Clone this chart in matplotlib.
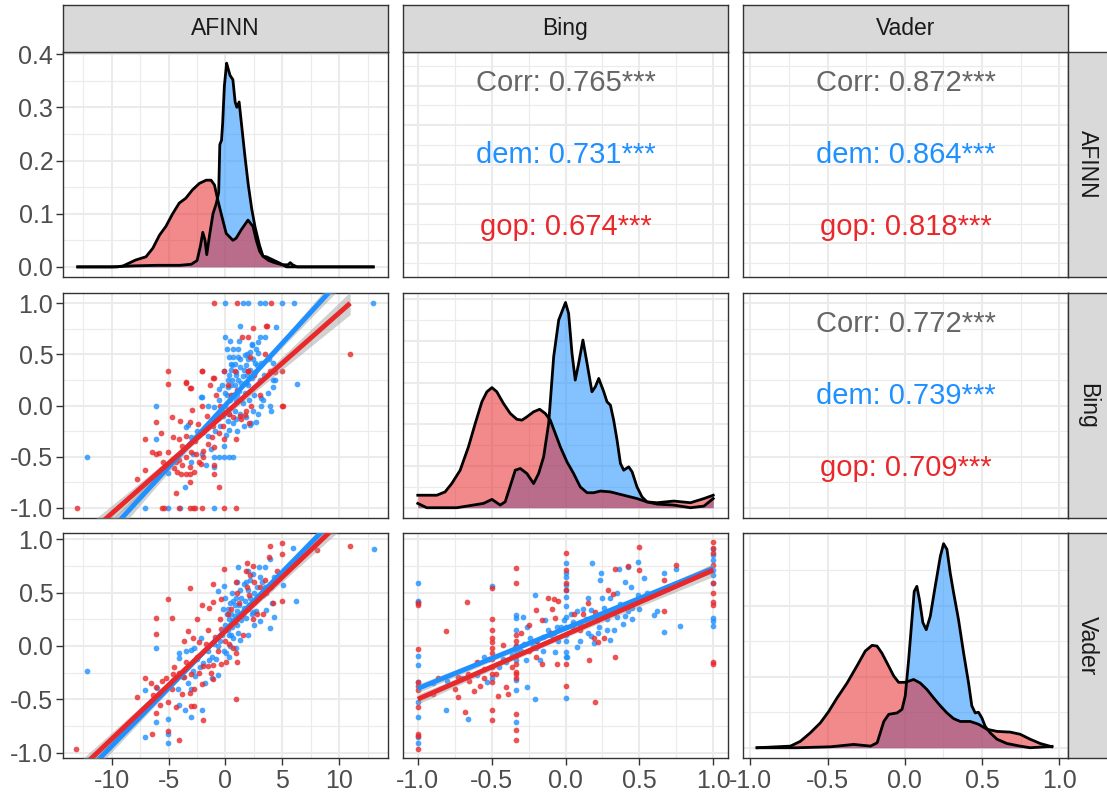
import numpy as np
import matplotlib
matplotlib.use("Agg")
from matplotlib import pyplot as plt

plt.rcParams['font.family'] = ['Liberation Sans', 'DejaVu Sans']

# %% colours and layout
DEM = '#1E90FF'
GOP = '#E8282B'
GRID = '#EBEBEB'
FRAME = '#333333'
W, H = 1107, 800
COL_LEFT = [63, 403, 743]
ROW_TOP = [52, 293, 533]
PW, PH = 325, 225

VARS = ['AFINN', 'Bing', 'Vader']

# %% axis scales
scales = {
    'AFINN': dict(lim=(-14.3, 14.3), major=[-10, -5, 0, 5, 10],
                  minor=[-12.5, -7.5, -2.5, 2.5, 7.5, 12.5],
                  labels=['-10', '-5', '0', '5', '10']),
    'Bing': dict(lim=(-1.1, 1.1), major=[-1, -0.5, 0, 0.5, 1],
                 minor=[-0.75, -0.25, 0.25, 0.75],
                 labels=['-1.0', '-0.5', '0.0', '0.5', '1.0']),
    'Vader': dict(lim=(-1.048, 1.057), major=[-1, -0.5, 0, 0.5, 1],
                  minor=[-0.75, -0.25, 0.25, 0.75],
                  labels=['-1.0', '-0.5', '0.0', '0.5', '1.0']),
}
dens_scales = {
    'AFINN': dict(lim=(-0.019, 0.404), major=[0, 0.1, 0.2, 0.3, 0.4],
                  minor=[0.05, 0.15, 0.25, 0.35],
                  labels=['0.0', '0.1', '0.2', '0.3', '0.4']),
    'Bing': dict(lim=(-0.123, 2.574), major=[0, 0.5, 1, 1.5, 2, 2.5],
                 minor=[0.25, 0.75, 1.25, 1.75, 2.25], labels=None),
    'Vader': dict(lim=(-0.144, 3.02), major=[0, 1, 2, 3],
                  minor=[0.5, 1.5, 2.5], labels=None),
}

# %% density curves (x, density) per party
afinn_dens_x_dem = [-13.0, -10.0, -8.0, -6.0, -4.0, -3.0, -2.5, -2.2, -2.0, -1.8, -1.65, -1.4,
                    -1.1, -0.8, -0.6, -0.5, -0.35, -0.25, -0.1, 0.1, 0.2, 0.4, 0.65, 0.85,
                    1.0, 1.2, 1.4, 1.7, 2.0, 2.3, 2.6, 3.0, 3.3, 3.8, 4.3, 5.0, 5.5, 5.7,
                    5.9, 6.3, 13.0]
afinn_dens_y_dem = [0.0, 0.0, 0.002, 0.003, 0.003, 0.005, 0.012, 0.04, 0.065, 0.05, 0.023, 0.06,
                    0.10, 0.12, 0.14, 0.23, 0.238, 0.27, 0.34, 0.383, 0.375, 0.36, 0.352, 0.31,
                    0.30, 0.31, 0.27, 0.21, 0.155, 0.11, 0.075, 0.04, 0.02, 0.012, 0.008, 0.004,
                    0.004, 0.008, 0.004, 0.0, 0.0]
afinn_dens_x_gop = [-13.0, -9.5, -9.0, -8.5, -7.9, -7.0, -6.4, -5.8, -5.25, -4.65, -4.07, -3.5,
                    -2.9, -2.3, -1.7, -1.27, -0.97, -0.68, -0.38, 0.06, 0.65, 0.94, 1.39, 1.98,
                    2.42, 2.71, 3.01, 3.3, 3.6, 4.19, 4.78, 5.37, 13.0]
afinn_dens_y_gop = [0.0, 0.0, 0.002, 0.007, 0.013, 0.019, 0.035, 0.06, 0.076, 0.10, 0.12, 0.129,
                    0.145, 0.157, 0.163, 0.163, 0.154, 0.126, 0.10, 0.063, 0.05, 0.054, 0.07,
                    0.088, 0.076, 0.05, 0.029, 0.02, 0.019, 0.013, 0.007, 0.0, 0.0]

bing_dens_x_dem = [-1.0, -0.939, -0.736, -0.555, -0.498, -0.442, -0.408, -0.340, -0.306, -0.261,
                   -0.216, -0.182, -0.148, -0.114, -0.080, -0.046, 0.0, 0.021, 0.044, 0.066,
                   0.089, 0.118, 0.146, 0.179, 0.202, 0.225, 0.259, 0.281, 0.304, 0.326, 0.349,
                   0.372, 0.394, 0.428, 0.451, 0.484, 0.518, 0.552, 0.620, 0.733, 0.846, 0.937, 1.0]
bing_dens_y_dem = [0.052, 0.0, 0.0, 0.052, 0.10, 0.032, 0.072, 0.45, 0.47, 0.41, 0.29, 0.41,
                   0.61, 1.01, 1.81, 2.25, 2.46, 2.33, 1.85, 1.53, 1.73, 2.01, 1.73, 1.39, 1.45,
                   1.55, 1.39, 1.27, 1.23, 1.05, 0.81, 0.53, 0.45, 0.49, 0.43, 0.25, 0.13, 0.07,
                   0.044, 0.032, 0.0, 0.02, 0.11]
bing_dens_x_gop = [-1.0, -0.939, -0.871, -0.815, -0.770, -0.713, -0.657, -0.611, -0.566, -0.532,
                   -0.498, -0.465, -0.420, -0.374, -0.329, -0.295, -0.261, -0.216, -0.175, -0.137,
                   -0.103, -0.069, -0.035, 0.010, 0.055, 0.100, 0.146, 0.191, 0.236, 0.304,
                   0.394, 0.484, 0.552, 0.620, 0.733, 0.846, 0.937, 1.0]
bing_dens_y_gop = [0.15, 0.15, 0.15, 0.19, 0.29, 0.45, 0.73, 1.01, 1.27, 1.39, 1.44, 1.39, 1.25,
                   1.13, 1.06, 1.05, 1.09, 1.15, 1.18, 1.13, 1.05, 0.89, 0.73, 0.55, 0.41, 0.25,
                   0.18, 0.18, 0.20, 0.19, 0.15, 0.11, 0.07, 0.06, 0.08, 0.06, 0.11, 0.15]

vader_dens_x_dem = [-0.957, -0.696, -0.480, -0.331, -0.222, -0.179, -0.136, -0.104, -0.050,
                    -0.018, 0.003, 0.025, 0.046, 0.061, 0.078, 0.095, 0.117, 0.139, 0.165,
                    0.197, 0.230, 0.251, 0.273, 0.294, 0.316, 0.348, 0.381, 0.413, 0.434,
                    0.456, 0.477, 0.499, 0.521, 0.553, 0.597, 0.661, 0.747, 0.812, 0.953]
vader_dens_y_dem = [0.0, 0.0, 0.014, 0.047, 0.023, 0.07, 0.37, 0.47, 0.49, 0.54, 0.73, 1.24,
                    1.80, 2.20, 2.27, 2.08, 1.76, 1.66, 1.85, 2.27, 2.69, 2.87, 2.79, 2.46,
                    2.18, 1.80, 1.33, 0.91, 0.59, 0.49, 0.50, 0.42, 0.30, 0.21, 0.12, 0.06,
                    0.023, 0.0, 0.02]
vader_dens_x_gop = [-0.957, -0.741, -0.677, -0.612, -0.547, -0.493, -0.439, -0.374, -0.310,
                    -0.256, -0.212, -0.180, -0.148, -0.105, -0.072, -0.040, 0.003, 0.057,
                    0.100, 0.143, 0.187, 0.230, 0.273, 0.316, 0.359, 0.424, 0.478, 0.532,
                    0.597, 0.683, 0.747, 0.812, 0.877, 0.953]
vader_dens_y_gop = [0.0, 0.023, 0.09, 0.21, 0.35, 0.51, 0.70, 0.91, 1.15, 1.36, 1.44, 1.43,
                    1.33, 1.15, 1.01, 0.92, 0.92, 0.96, 0.91, 0.82, 0.70, 0.59, 0.49, 0.41,
                    0.37, 0.37, 0.33, 0.26, 0.23, 0.22, 0.19, 0.12, 0.06, 0.014]

densities = {
    'AFINN': {'dem': (afinn_dens_x_dem, afinn_dens_y_dem), 'gop': (afinn_dens_x_gop, afinn_dens_y_gop)},
    'Bing': {'dem': (bing_dens_x_dem, bing_dens_y_dem), 'gop': (bing_dens_x_gop, bing_dens_y_gop)},
    'Vader': {'dem': (vader_dens_x_dem, vader_dens_y_dem), 'gop': (vader_dens_x_gop, vader_dens_y_gop)},
}

# %% scatter points (x, y)
afinn_bing_dem = [
    (0, 1.0), (1.5, 1.0), (2, 1.0), (3, 1.0), (3.5, 1.0), (5, 1.0), (6, 1.0), (13, 1.0),
    (1.24, 0.78), (4.48, 0.77), (0, 0.67), (0.4, 0.63), (3.0, 0.67), (3.45, 0.67), (2.36, 0.59),
    (2.3, 0.60), (0.35, 0.47), (1.09, 0.47), (1.68, 0.49), (2.12, 0.52), (2.86, 0.51), (0.8, 0.41),
    (2.57, 0.42), (3.16, 0.42), (0.5, 0.41), (-0.09, 0.34), (0.94, 0.33), (1.53, 0.29), (1.09, 0.25),
    (0.6, 0.25), (0.3, 0.30), (0.8, 0.2), (1.4, 0.22), (1.9, 0.30), (2.3, 0.27), (2.6, 0.33),
    (0.2, 0.18), (0.7, 0.10), (1.2, 0.14), (1.7, 0.12), (2.0, 0.2), (0.9, 0.05), (1.5, 0.02),
    (4.19, 0.25), (4.2, 0.415), (4.33, 0.25), (4.19, 0.18), (6.25, 0.21), (-2.15, 0.08),
    (-1.56, 0.0), (-0.97, -0.01), (-0.6, 0.05), (-0.3, -0.05), (0.0, 0.0), (0.3, -0.08),
    (3.16, 0.07), (3.89, 0.0), (3.16, 0.0), (4.04, -0.05), (2.86, -0.08), (3.3, 0.05),
    (2.65, -0.16), (2.27, -0.17), (1.83, -0.11), (1.24, -0.08), (0.94, -0.13), (0.65, -0.17),
    (0.35, -0.24), (0.06, -0.29), (2.12, -0.19), (1.0, -0.25), (-0.09, -0.40), (0.35, -0.50),
    (-0.09, -0.50), (-0.53, -0.50), (0.7, -0.5), (-1.03, -0.60), (-1.03, -0.50), (-1.71, -0.58),
    (-3.54, -0.80), (-5.1, -0.66), (-6.14, 0.0), (-6.14, -0.33), (-3.48, -0.21), (-3.04, -0.31),
    (-2.83, -0.47), (-2.1, 0.08), (-3.33, -0.19), (-0.53, 0.16), (0.65, 0.47), (-12.2, -0.5),
    (-7.1, -1.0), (-5.1, -1.0), (-1.0, -1.0), (-4.0, -1.0), (-1.5, -0.3), (-2.5, -0.25),
    (-1.0, -0.15), (-0.5, -0.2), (-0.2, -0.1), (0.5, 0.35), (1.8, 0.4), (2.0, 0.45), (1.3, 0.38),
    (0.15, 0.55), (2.7, 0.55), (3.7, 0.12), (3.0, 0.25), (2.5, 0.1), (-1.3, -0.43), (-2.1, -0.47),
    (-3.0, -0.55), (0.1, 0.1), (0.4, 0.05), (0.6, 0.4), (0.9, 0.3), (1.1, 0.55), (1.3, 0.45),
    (1.6, 0.35), (1.9, 0.5), (2.2, 0.35), (2.4, 0.45), (2.8, 0.4), (0.2, 0.25), (0.5, 0.2),
    (1.0, 0.1), (1.4, 0.05), (1.8, 0.22), (2.1, 0.05), (0.0, 0.12), (-0.3, 0.2), (-0.6, -0.1),
    (-0.9, -0.25), (0.2, -0.15), (0.8, -0.05), (1.6, -0.2), (2.4, -0.05), (3.4, 0.3), (3.8, 0.45),
    (2.9, 0.62), (1.2, 0.63), (0.7, 0.55),
]
afinn_bing_gop = [
    (-1, 1.0), (1, 1.0), (4, 1.0), (-13.1, -1.0), (-5.6, -1.0), (-5.4, -1.0), (-4.1, -1.0),
    (-3.1, -1.0), (-2.9, -1.0), (-2.7, -1.0), (-2.1, -1.0), (-0.1, -1.0), (0.94, -1.0),
    (-5.1, 0.337), (-5.1, 0.206), (-3.48, 0.22), (-3.13, 0.17), (-2.1, 0.337), (-1.36, 0.20),
    (-1.03, 0.27), (-0.09, 0.337), (0.88, 0.337), (1.98, 0.337), (3.95, 0.337), (4.93, 0.337),
    (1.47, 0.67), (1.98, 0.67), (2.42, 0.756), (3.6, 0.78), (3.45, 0.5), (4.93, 0.0),
    (10.97, 0.505), (-2.07, 0.0), (-2.95, -0.04), (-4.75, -0.11), (-6.14, -0.16), (-5.69, -0.27),
    (-7.1, -0.33), (-4.07, -0.33), (-4.66, -0.31), (-3.13, -0.16), (-2.39, -0.18), (-1.95, -0.26),
    (-1.18, -0.31), (-1.03, -0.41), (-0.09, -0.33), (0.94, -0.33), (-6.43, -0.45), (-6.14, -0.47),
    (-5.84, -0.46), (-5.1, -0.45), (-4.66, -0.52), (-4.37, -0.55), (-4.07, -0.53), (-3.83, -0.58),
    (-3.48, -0.50), (-3.13, -0.60), (-2.6, -0.47), (-2.36, -0.55), (-2.15, -0.57), (-1.95, -0.50),
    (-4.51, -0.61), (-3.92, -0.67), (-3.48, -0.67), (-3.13, -0.67), (-3.13, -0.75), (-7.1, -0.63),
    (-7.76, -0.72), (-4.37, -0.86), (-1.03, -0.67), (-1.03, -0.58), (-0.59, -0.80), (0.3, -0.08),
    (0.65, -0.11), (1.3, -0.1), (1.7, -0.09), (2.1, -0.17), (-1.1, -0.2), (-0.6, -0.27),
    (-1.5, -0.38), (-2.0, -0.44), (3.66, 0.78), (2.18, 0.47), (1.98, 0.34), (-2.06, 0.34),
    (-1.12, 0.27), (-3.48, 0.23), (-3.04, 0.17), (2.27, 0.0), (5.07, 0.0), (1.83, -0.05),
    (1.39, -0.13), (-0.23, -0.20), (4.34, 0.33), (-4.0, -0.15), (-3.5, -0.3), (-2.7, -0.35),
    (0.5, 0.1), (1.0, 0.15), (-0.5, 0.0), (-3.0, -0.45), (-3.8, -0.4), (-4.3, -0.65),
    (-2.8, -0.65), (-5.5, -0.55), (-1.6, -0.1), (-0.8, 0.1), (0.2, 0.2), (2.5, 0.3), (3.0, 0.1),
]
afinn_vader_dem = [
    (13.04, 0.907), (5.96, 0.92), (3.95, 0.81), (1.09, 0.74), (2.95, 0.74), (3.45, 0.74),
    (4.48, 0.63), (2.0, 0.70), (2.4, 0.67), (-0.09, 0.56), (-0.68, 0.51), (0.65, 0.42),
    (6.19, 0.42), (5.07, 0.57), (4.25, 0.27), (3.95, 0.17), (3.0, 0.23), (2.1, 0.38), (2.7, 0.33),
    (-6.14, -0.015), (-7.1, -0.41), (-5.1, -0.68), (-6.14, -0.71), (-7.1, -0.85), (-5.1, -0.82),
    (-5.1, -0.91), (-4.07, -0.55), (-3.54, -0.60), (-3.04, -0.66), (-2.1, -0.60), (-12.2, -0.236),
    (-4.07, -0.07), (-4.07, -0.11), (-3.5, -0.05), (-3.04, -0.04), (-2.74, -0.02), (-2.15, 0.07),
    (-0.68, -0.27), (0.06, -0.065), (0.65, 0.07), (1.24, 0.055), (0.35, -0.1), (0.94, -0.02),
    (-1.42, -0.13), (-2.0, -0.16), (-2.89, -0.23), (-3.7, -0.29), (-4.6, -0.32), (-6.0, -0.39),
    (3.6, 0.34), (2.42, 0.32), (0.0, 0.20), (0.3, 0.25), (0.5, 0.30), (0.8, 0.28), (1.0, 0.33),
    (1.2, 0.38), (1.5, 0.30), (1.7, 0.42), (1.9, 0.35), (2.2, 0.45), (2.5, 0.50), (0.2, 0.15),
    (0.6, 0.18), (1.0, 0.20), (1.4, 0.24), (1.8, 0.26), (0.1, 0.30), (-0.3, 0.10), (-0.5, 0.05),
    (-1.0, 0.02), (0.4, 0.40), (0.9, 0.45), (1.3, 0.52), (0.0, 0.45), (2.8, 0.55), (3.2, 0.60),
    (1.6, 0.58), (-1.5, -0.05), (-0.8, -0.12), (-1.2, -0.3), (-2.5, -0.12), (-3.3, -0.35),
    (-4.2, -0.4), (-1.8, -0.35), (0.5, 0.10), (3.3, 0.48), (4.0, 0.55), (4.1, 0.4), (-0.2, 0.35),
    (2.0, 0.10), (2.5, 0.2), (1.0, 0.6), (0.3, 0.1), (0.7, 0.24), (1.1, 0.27), (1.6, 0.36),
    (2.3, 0.3), (2.0, 0.52), (2.6, 0.42), (3.0, 0.65), (0.2, 0.35), (0.8, 0.38), (1.4, 0.45),
    (1.1, 0.12), (0.4, 0.0), (-0.1, -0.05), (-0.7, 0.0), (-1.2, -0.1), (-2.2, -0.2), (-2.7, -0.28),
    (-3.0, -0.4), (3.5, 0.55), (2.8, 0.45), (4.3, 0.65), (1.8, 0.6), (2.2, 0.62), (0.6, 0.5),
]
afinn_vader_gop = [
    (10.97, 0.935), (8.02, 0.90), (5.0, 0.96), (5.0, 0.86), (3.95, 0.935), (3.83, 0.835),
    (1.89, 0.78), (2.42, 0.75), (-0.09, 0.72), (1.8, 0.70), (2.2, 0.66), (0.94, 0.60), (1.89, 0.55),
    (-1.12, 0.58), (-3.13, 0.54), (-5.1, 0.44), (-2.1, 0.38), (-1.42, 0.36), (-1.12, 0.41),
    (-0.38, 0.44), (1.0, 0.50), (2.06, 0.48), (5.0, 0.42), (4.19, 0.40), (2.42, 0.25), (3.3, 0.30),
    (-6.14, 0.26), (-4.75, 0.26), (-6.14, 0.11), (-3.27, 0.14), (-3.63, 0.05), (-2.9, 0.07),
    (-2.3, 0.04), (0.35, 0.02), (0.65, -0.02), (0.94, -0.07), (1.0, -0.15), (0.06, -0.15),
    (-0.38, -0.17), (-1.12, -0.18), (-1.56, -0.19), (-2.0, -0.19), (-2.3, -0.25), (-3.04, -0.26),
    (-3.63, -0.29), (-4.13, -0.25), (-4.66, -0.26), (-5.25, -0.30), (-5.55, -0.33), (-6.14, -0.38),
    (-7.1, -0.30), (-6.58, -0.35), (-7.76, -0.48), (-6.37, -0.46), (-5.1, -0.52), (-4.37, -0.57),
    (-3.13, -0.44), (-3.04, -0.56), (-2.74, -0.56), (-2.06, -0.36), (-1.12, -0.31), (-1.95, -0.69),
    (-6.14, -0.63), (-6.43, -0.82), (-5.1, -0.80), (-4.07, -0.88), (0.94, -0.50), (-13.16, -0.96),
    (-1.7, 0.02), (-0.9, 0.08), (-0.4, 0.16), (0.8, 0.22), (1.4, 0.28), (2.0, 0.35), (2.6, 0.42),
    (3.0, 0.55), (3.5, 0.62), (-0.5, 0.25), (0.5, 0.35), (-2.5, -0.1), (-3.5, -0.15), (-4.5, -0.2),
    (1.5, 0.1), (3.6, 0.5), (4.5, 0.7), (-1.5, 0.15), (0.0, 0.05), (2.5, 0.6), (-2.8, -0.4),
    (-3.8, -0.45), (-4.7, -0.4), (-1.3, -0.25), (-0.7, -0.05), (0.2, 0.3), (1.2, 0.4), (2.8, 0.3),
    (-5.8, -0.55), (-2.5, 0.25),
]
bing_vader_dem = [
    (-1, 0.59), (-1, 0.42), (-1, 0.41), (-1, -0.09), (-1, -0.18), (-1, -0.34), (-1, -0.52),
    (-1, -0.66), (-1, -0.85), (-1, -0.91), (-0.5, 0.56), (-0.5, -0.3), (-0.333, 0.29),
    (-0.333, 0.26), (-0.333, 0.15), (-0.333, 0.0), (-0.333, -0.05), (-0.333, -0.13),
    (-0.333, -0.32), (-0.333, -0.41), (-0.333, -0.71), (0, 0.78), (0, 0.68), (0, 0.65), (0, 0.57),
    (0, 0.52), (0, 0.46), (0, 0.37), (0, 0.27), (0, 0.18), (0, 0.10), (0, 0.05), (0, -0.06),
    (0, -0.10), (0, -0.49), (1, 0.91), (1, 0.85), (1, 0.80), (1, 0.71), (1, 0.66), (1, 0.59),
    (1, 0.26), (1, 0.23), (1, 0.19), (-0.808, -0.60), (-0.663, -0.68), (-0.205, -0.50),
    (-0.26, -0.38), (0.179, 0.78), (0.24, 0.68), (0.235, 0.62), (0.36, 0.72), (0.49, 0.79),
    (0.42, 0.74), (0.53, 0.64), (0.665, 0.68), (0.75, 0.72), (0.62, 0.33), (0.60, 0.29),
    (0.67, 0.13), (0.775, 0.19), (-0.205, 0.48), (-0.26, 0.18), (-0.29, 0.27), (0.078, -0.01),
    (0.01, -0.10), (0.17, 0.09), (0.19, 0.03), (0.30, 0.06), (-0.07, -0.06), (-0.17, -0.13),
    (-0.27, -0.13), (-0.53, -0.34), (-0.59, -0.16), (0.17, 0.34), (0.26, 0.36), (0.29, 0.32),
    (0.37, 0.39), (0.42, 0.33), (0.47, 0.41), (0.44, 0.55), (0.49, 0.48), (0.35, 0.27),
    (0.21, 0.24), (0.23, 0.18), (0.39, 0.21), (0.12, 0.35), (0.08, 0.33), (0.04, 0.30),
    (-0.01, 0.24), (-0.06, 0.18), (-0.12, 0.15), (-0.19, 0.05), (-0.28, 0.02), (-0.24, 0.07),
    (-0.14, 0.24), (-0.10, 0.10), (-0.40, -0.15), (-0.45, -0.2), (-0.60, -0.27), (-0.70, -0.30),
    (-0.80, -0.33), (-0.90, -0.35), (-0.55, -0.10), (0.10, 0.20), (0.30, 0.45), (0.55, 0.50),
    (0.33, 0.15), (0.15, 0.12), (-0.2, -0.02), (0.05, 0.15), (0.14, 0.25), (0.2, 0.28),
    (0.28, 0.25), (0.33, 0.31), (0.4, 0.28), (0.45, 0.36), (0.05, 0.22), (-0.03, 0.18),
    (-0.08, 0.12), (-0.15, 0.08), (-0.22, 0.0), (-0.3, -0.05), (-0.36, -0.08), (-0.42, -0.12),
    (0.25, 0.45), (0.35, 0.5), (0.4, 0.6), (0.15, 0.45), (0.5, 0.35), (0.1, 0.05), (0.22, 0.12),
    (0.28, 0.15), (-0.05, 0.05), (-0.15, -0.05), (0.45, 0.25),
]
bing_vader_gop = [
    (-1, 0.40), (-1, 0.38), (-1, -0.03), (-1, -0.34), (-1, -0.37), (-1, -0.41), (-1, -0.57),
    (-1, -0.82), (-1, -0.84), (-1, -0.96), (-0.5, 0.54), (-0.5, 0.25), (-0.5, 0.15), (-0.5, 0.07),
    (-0.5, 0.04), (-0.5, -0.02), (-0.5, -0.07), (-0.5, -0.12), (-0.5, -0.20), (-0.5, -0.26),
    (-0.5, -0.34), (-0.5, -0.60), (-0.5, -0.69), (-0.333, 0.73), (-0.333, 0.59), (-0.333, 0.10),
    (-0.333, 0.05), (-0.333, 0.0), (-0.333, -0.09), (-0.333, -0.17), (-0.333, -0.24),
    (-0.333, -0.26), (-0.333, -0.30), (-0.333, -0.64), (-0.333, -0.79), (-0.333, -0.88),
    (0, 0.87), (0, 0.71), (0, 0.59), (0, 0.52), (0, -0.17), (0, -0.37), (1, 0.97), (1, 0.92),
    (1, 0.87), (1, 0.76), (1, 0.59), (1, 0.50), (1, 0.41), (1, 0.38), (1, -0.15), (1, -0.17),
    (-0.808, 0.14), (-0.67, 0.41), (-0.725, -0.48), (-0.68, -0.62), (-0.62, -0.42), (-0.58, -0.37),
    (-0.66, -0.26), (-0.60, -0.15), (-0.46, -0.47), (-0.39, -0.45), (-0.40, -0.38), (-0.42, 0.01),
    (-0.2, 0.34), (-0.16, 0.24), (-0.08, 0.44), (-0.09, 0.35), (-0.07, 0.26), (-0.16, -0.17),
    (-0.06, -0.17), (0.16, -0.13), (0.198, -0.52), (0.195, 0.07), (0.22, 0.04), (0.29, 0.52),
    (0.32, 0.49), (0.335, 0.72), (0.42, 0.75), (0.50, 0.71), (0.50, 0.93), (0.335, -0.10),
    (0.665, 0.33), (0.665, 0.62), (0.75, 0.76), (-0.52, -0.12), (-0.47, -0.26), (0.26, 0.07),
    (-0.73, -0.29), (-0.86, -0.30), (-0.55, -0.22), (-0.25, -0.05), (-0.1, 0.12), (0.05, 0.2),
    (0.12, 0.3), (0.2, 0.32), (-0.30, 0.12), (-0.2, -0.1), (0.06, 0.3), (-0.12, 0.45), (-0.05, 0.42),
    (-0.65, -0.33), (-0.55, -0.3), (-0.75, -0.4), (-0.9, -0.45), (-0.36, -0.2), (-0.25, 0.2),
    (-0.2, 0.05), (0.1, 0.15), (0.15, 0.4), (0.25, 0.3),
]

scatter = {
    ('AFINN', 'Bing'): {'dem': afinn_bing_dem, 'gop': afinn_bing_gop},
    ('AFINN', 'Vader'): {'dem': afinn_vader_dem, 'gop': afinn_vader_gop},
    ('Bing', 'Vader'): {'dem': bing_vader_dem, 'gop': bing_vader_gop},
}

# fitted lines (intercept, slope)
fits = {
    ('AFINN', 'Bing'): {'dem': (0.004, 0.121), 'gop': (-0.075, 0.098)},
    ('AFINN', 'Vader'): {'dem': (0.150, 0.1085), 'gop': (0.140, 0.1009)},
    ('Bing', 'Vader'): {'dem': (0.164, 0.562), 'gop': (0.106, 0.604)},
}
BAND_Z = 0.75

# correlations shown in the upper panels: (overall, dem, gop)
corrs = {
    ('AFINN', 'Bing'): ('0.765', '0.731', '0.674'),
    ('AFINN', 'Vader'): ('0.872', '0.864', '0.818'),
    ('Bing', 'Vader'): ('0.772', '0.739', '0.709'),
}

COLORS = {'dem': DEM, 'gop': GOP}

# %% figure
fig = plt.figure(figsize=(W / 100, H / 100), dpi=100)


def px_axes(left, top, width, height):
    return fig.add_axes([left / W, 1 - (top + height) / H, width / W, height / H])


def style_axes(ax, xs, ys):
    ax.set_xlim(*xs['lim'])
    ax.set_ylim(*ys['lim'])
    ax.set_xticks(xs['major'])
    ax.set_xticks(xs['minor'], minor=True)
    ax.set_yticks(ys['major'])
    ax.set_yticks(ys['minor'], minor=True)
    ax.grid(which='major', color=GRID, lw=1.5)
    ax.grid(which='minor', color=GRID, lw=0.8)
    ax.set_axisbelow(True)
    ax.tick_params(which='both', length=0, labelleft=False, labelbottom=False)
    for sp in ax.spines.values():
        sp.set_color(FRAME)
        sp.set_linewidth(1.0)


for i, yvar in enumerate(VARS):
    for j, xvar in enumerate(VARS):
        ax = px_axes(COL_LEFT[j], ROW_TOP[i], PW, PH)
        xs = scales[xvar]
        if i == j:
            ys = dens_scales[xvar]
            style_axes(ax, xs, ys)
            for party in ['dem', 'gop']:
                dx, dy = densities[xvar][party]
                ax.fill_between(dx, dy, 0, color=COLORS[party], alpha=0.55, lw=0)
                ax.plot(dx, dy, color='black', lw=2.0)
        elif i > j:
            ys = scales[yvar]
            style_axes(ax, xs, ys)
            pts = scatter[(xvar, yvar)]
            for party in ['dem', 'gop']:
                px, py = np.array(pts[party]).T
                ax.scatter(px, py, s=17, color=COLORS[party], alpha=0.8, lw=0, zorder=2)
            for party in ['dem', 'gop']:
                px, py = np.array(pts[party]).T
                a, b = fits[(xvar, yvar)][party]
                xg = np.linspace(px.min(), px.max(), 120)
                yg = a + b * xg
                resid = py - (a + b * px)
                n = len(px)
                s = np.sqrt(np.sum(resid ** 2) / (n - 2))
                sxx = np.sum((px - px.mean()) ** 2)
                se = s * np.sqrt(1 / n + (xg - px.mean()) ** 2 / sxx)
                ax.fill_between(xg, yg - BAND_Z * se, yg + BAND_Z * se, color='#999999',
                                alpha=0.45, lw=0, zorder=3)
                ax.plot(xg, yg, color=COLORS[party], lw=3.5, zorder=4, solid_capstyle='butt')
        else:
            ys = scales[yvar]
            # upper panels: x is the column variable, y the row variable
            style_axes(ax, scales[xvar], scales[yvar])
            c_all, c_dem, c_gop = corrs[(yvar, xvar)]
            kw = dict(transform=ax.transAxes, ha='center', va='center', fontsize=21)
            ax.text(0.5, 0.861, f'Corr: {c_all}***', color='#666666', **kw)
            ax.text(0.5, 0.542, f'dem: {c_dem}***', color=DEM, **kw)
            ax.text(0.5, 0.222, f'gop: {c_gop}***', color=GOP, **kw)

        if j == 0:
            labs = ys['labels'] if ys['labels'] is not None else ys['major']
            ax.tick_params(axis='y', which='major', length=5, width=1, color=FRAME,
                           labelleft=True, labelsize=18, labelcolor='#4D4D4D', pad=2)
            ax.set_yticklabels(labs)
        if i == 2:
            ax.tick_params(axis='x', which='major', length=5, width=1, color=FRAME,
                           labelbottom=True, labelsize=18, labelcolor='#4D4D4D', pad=3)
            ax.set_xticklabels(xs['labels'])

# strips
for j, name in enumerate(VARS):
    sax = px_axes(COL_LEFT[j], 5, PW, 47)
    sax.set_facecolor('#D9D9D9')
    sax.set_xticks([])
    sax.set_yticks([])
    for sp in sax.spines.values():
        sp.set_color(FRAME)
        sp.set_linewidth(1.0)
    sax.text(0.5, 0.5, name, ha='center', va='center', fontsize=16.5, color='#1A1A1A',
             transform=sax.transAxes)

for i, name in enumerate(VARS):
    sax = px_axes(1068, ROW_TOP[i], 42, PH)
    sax.set_facecolor('#D9D9D9')
    sax.set_xticks([])
    sax.set_yticks([])
    for sp in sax.spines.values():
        sp.set_color(FRAME)
        sp.set_linewidth(1.0)
    sax.text(0.46, 0.5, name, ha='center', va='center', fontsize=16.5, color='#1A1A1A',
             rotation=-90, transform=sax.transAxes)

fig.savefig('out.png', dpi=100)
